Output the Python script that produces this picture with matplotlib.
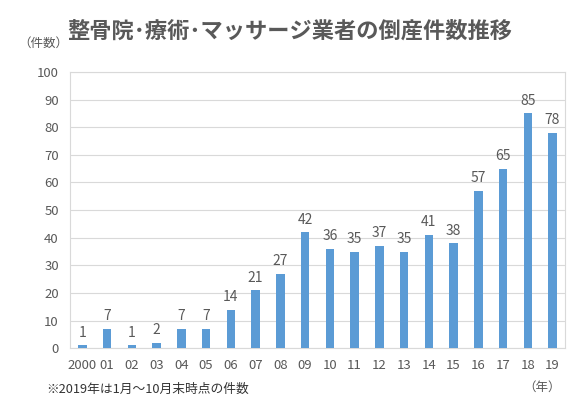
import matplotlib.pyplot as plt
import numpy as np

plt.rcParams['font.family'] = ['Noto Sans CJK JP', 'DejaVu Sans']

years = ["2000", "01", "02", "03", "04", "05", "06", "07", "08", "09",
         "10", "11", "12", "13", "14", "15", "16", "17", "18", "19"]
counts = [1, 7, 1, 2, 7, 7, 14, 21, 27, 42, 36, 35, 37, 35, 41, 38, 57, 65, 85, 78]

text_color = "#595959"
bar_color = "#5B9BD5"

fig = plt.figure(figsize=(5.83, 4.16), dpi=100)
ax = fig.add_axes([0.120, 0.163, 0.849, 0.664])

x = np.arange(len(years))
ax.bar(x, counts, width=0.34, color=bar_color, zorder=3)
for xi, v in zip(x, counts):
    ax.text(xi, v + 2, str(v), ha="center", va="bottom", fontsize=10, color=text_color)

ax.set_xlim(-0.5, len(years) - 0.5)
ax.set_ylim(0, 100)
ax.set_yticks(range(0, 101, 10))
ax.set_xticks(x)
ax.set_xticklabels(years)
ax.tick_params(axis="both", length=0, labelsize=9.5, colors=text_color, pad=8)
ax.yaxis.grid(True, color="#D9D9D9", linewidth=0.8, zorder=0)
for s in ax.spines.values():
    s.set_color("#D9D9D9")
    s.set_linewidth(0.8)

fig.text(0.497, 0.925, "整骨院･療術･マッサージ業者の倒産件数推移", ha="center", va="center",
         fontsize=16, fontweight="bold", color=text_color)
fig.text(0.075, 0.897, "（件数）", ha="center", va="center", fontsize=9, color=text_color)
fig.text(0.08, 0.065, "※2019年は1月～10月末時点の件数", ha="left", va="center", fontsize=9.2, color="#333333")
fig.text(0.93, 0.07, "（年）", ha="center", va="center", fontsize=9, color=text_color)

fig.savefig("out.png", dpi=100)
